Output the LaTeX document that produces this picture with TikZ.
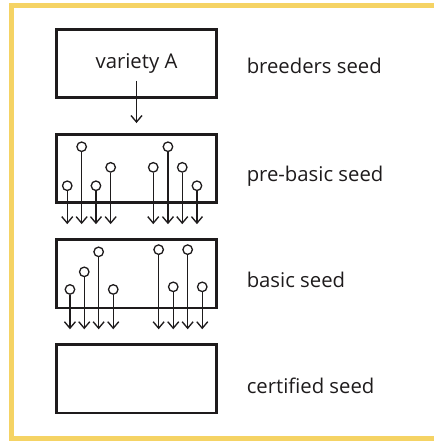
\documentclass[tikz,border=0pt]{standalone}
\usepackage{fontspec}
\setmainfont{Open Sans}
\usetikzlibrary{arrows.meta,positioning,calc}

\definecolor{framegold}{RGB}{245,211,100}
\definecolor{inkgray}{RGB}{30,27,28}

\begin{document}
\begin{tikzpicture}[
  x=1pt, y=-1pt,
  >={Straight Barb[length=6.5pt,width=11pt]},
  node distance=34pt,
  every node/.style={font=\fontsize{20.3}{24}\selectfont, text=inkgray},
  seedbox/.style={draw=inkgray, line width=2.7pt, minimum width=160.4pt, minimum height=68.4pt, inner sep=0pt},
  seedlabel/.style={anchor=base west, inner sep=0pt},
  seedhead/.style={circle, draw=inkgray, line width=1.3pt, fill=white, minimum size=9.5pt, inner sep=0pt},
  seedarrow/.style={->, draw=inkgray, line width=1.35pt}
]
\useasboundingbox (0,0) rectangle (434,441);
% open yellow frame
\draw[framegold, line width=5.3pt] (434,5.7) -- (11.4,5.7) -- (11.4,438.6) -- (434,438.6);

\node[seedbox] (vara) at (136.5,63.5) {variety A};
\node[seedbox, below=of vara] (prebasic) {};
\node[seedbox, below=of prebasic] (basic) {};
\node[seedbox, below=of basic] (certified) {};

\node[seedlabel] (lbreeders) at ([xshift=28.5pt, yshift=-10pt]vara.east) {breeders seed};
\node[seedlabel] (lprebasic) at ([xshift=28.5pt, yshift=-12.5pt]prebasic.east) {pre-basic seed};
\node[seedlabel] (lbasic) at ([xshift=28.5pt, yshift=-13.5pt]basic.east) {basic seed};
\node[seedlabel] (lcertified) at ([xshift=28.5pt, yshift=-14.5pt]certified.east) {certified seed};

\coordinate (vastart) at ([yshift=-17.5pt]vara.center);
\coordinate (vaend) at ([yshift=10pt]prebasic.north);
\draw[seedarrow] (vastart) -- (vaend);

% plants in the pre-basic lot
\foreach \x/\y [count=\i] in {12.3/52.7, 26.7/13.7, 41/52.7, 55.7/34.3, 98.3/34.3, 113/13.7, 127.3/34.3, 142/52.7} {
  \node[seedhead] (pb\i) at ($(prebasic.north west)+(\x,\y)$) {};
  \coordinate (pbend\i) at ($(prebasic.south west)+(\x,20)$);
  \draw[seedarrow] (pb\i.south) -- (pbend\i);
}

% plants in the basic lot
\foreach \x/\y [count=\i] in {15/51.3, 29.3/33.7, 43.7/13.7, 58.3/51.3, 103.7/11.5, 118.3/48.7, 132.7/11.5, 147.3/48.7} {
  \node[seedhead] (bs\i) at ($(basic.north west)+(\x,\y)$) {};
  \coordinate (bsend\i) at ($(basic.south west)+(\x,20)$);
  \draw[seedarrow] (bs\i.south) -- (bsend\i);
}
\end{tikzpicture}
\end{document}
